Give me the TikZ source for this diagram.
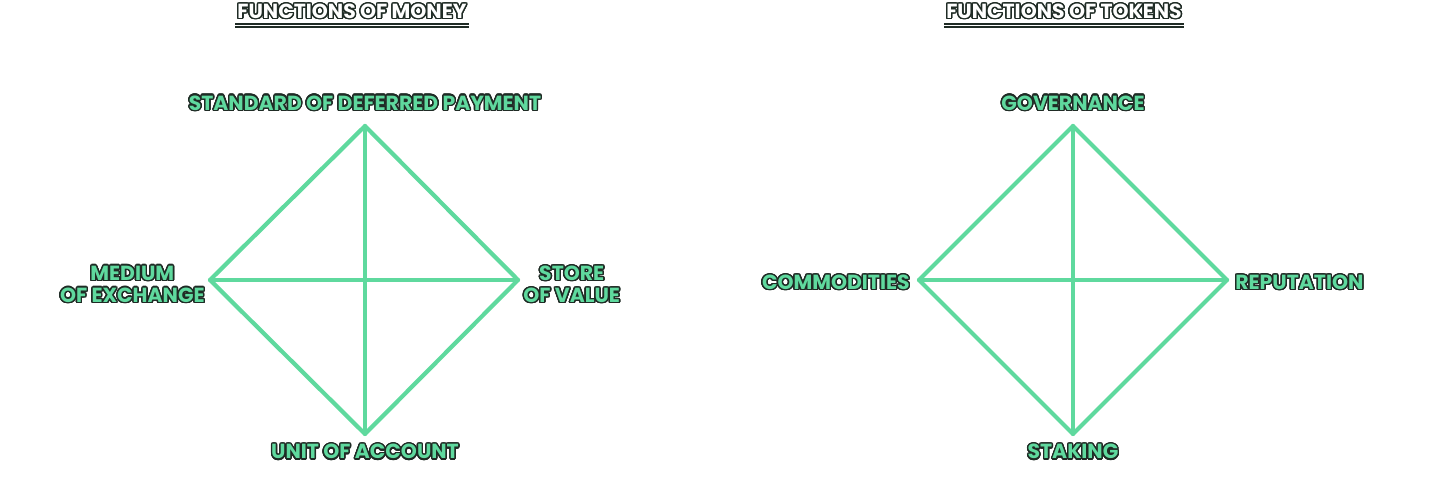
\documentclass[tikz,border=0pt]{standalone}
\usepackage{fontspec}
\setmainfont{Poppins}
\usepackage[copies]{contour}
\contourlength{0.7pt}
\contournumber{24}
\definecolor{mint}{HTML}{5FD99E}
\definecolor{inkdark}{HTML}{1F2B25}

\begin{document}
\begin{tikzpicture}[x=0.5pt,y=0.5pt]
    \pgfmathsetmacro{\halfwidth}{154}
    \pgfmathsetmacro{\halfheight}{154}
    \pgfmathsetmacro{\midy}{201}
    \providecommand{\labelfontsize}{\fontsize{10.2pt}{11pt}\selectfont}
    \providecommand{\titlefontsize}{\fontsize{10.2pt}{11pt}\selectfont}
    \tikzset{
        edge/.style={draw=mint,line width=2.1pt,line join=round,line cap=round},
        corner/.style={font=\labelfontsize\bfseries,text=mint,inner sep=1pt,align=center},
        heading/.style={font=\titlefontsize\bfseries,text=white,inner sep=1pt}
    }
    \useasboundingbox (0,0) rectangle (1432,481);
    % money
    \coordinate (mtop) at (365,\midy+\halfheight);
    \coordinate (mleft) at (365-\halfwidth-1,\midy);
    \coordinate (mright) at (365+\halfwidth-1,\midy);
    \coordinate (mbottom) at (365,\midy-\halfheight);
    \draw[edge] (mtop) -- (mright) -- (mbottom) -- (mleft) -- cycle;
    \draw[edge] (mtop) -- (mbottom);
    \draw[edge] (mleft) -- (mright);
    % tokens
    \coordinate (ttop) at (1073,\midy+\halfheight);
    \coordinate (tleft) at (1073-\halfwidth,\midy);
    \coordinate (tright) at (1073+\halfwidth,\midy);
    \coordinate (tbottom) at (1073,\midy-\halfheight);
    \draw[edge] (ttop) -- (tright) -- (tbottom) -- (tleft) -- cycle;
    \draw[edge] (ttop) -- (tbottom);
    \draw[edge] (tleft) -- (tright);
    % labels
    \node[corner,anchor=south] (payment) at (365,367) {\contour{inkdark}{STANDARD OF DEFERRED PAYMENT}};
    \node[corner,anchor=east] (exchange) at (207,196) {\contour{inkdark}{MEDIUM}\\\contour{inkdark}{OF EXCHANGE}};
    \node[corner,anchor=west] (value) at (521,196) {\contour{inkdark}{STORE}\\\contour{inkdark}{OF VALUE}};
    \node[corner,anchor=north] (account) at (365,39) {\contour{inkdark}{UNIT OF ACCOUNT}};
    \node[corner,anchor=south] (governance) at (1073,367) {\contour{inkdark}{GOVERNANCE}};
    \node[corner,anchor=east] (commodities) at (912,198) {\contour{inkdark}{COMMODITIES}};
    \node[corner,anchor=west] (reputation) at (1233,198) {\contour{inkdark}{REPUTATION}};
    \node[corner,anchor=north] (staking) at (1073,39) {\contour{inkdark}{STAKING}};
    % titles
    \node[heading] (moneytitle) at (352,469) {\contour{inkdark}{FUNCTIONS OF MONEY}};
    \node[heading] (tokentitle) at (1064,469) {\contour{inkdark}{FUNCTIONS OF TOKENS}};
    \draw[inkdark,line width=2.2pt] ([yshift=-1.5pt]moneytitle.south west) -- ([yshift=-1.5pt]moneytitle.south east);
    \draw[white,line width=0.8pt] ([yshift=-1.5pt]moneytitle.south west) -- ([yshift=-1.5pt]moneytitle.south east);
    \draw[inkdark,line width=2.2pt] ([yshift=-1.5pt]tokentitle.south west) -- ([yshift=-1.5pt]tokentitle.south east);
    \draw[white,line width=0.8pt] ([yshift=-1.5pt]tokentitle.south west) -- ([yshift=-1.5pt]tokentitle.south east);
\end{tikzpicture}
\end{document}
